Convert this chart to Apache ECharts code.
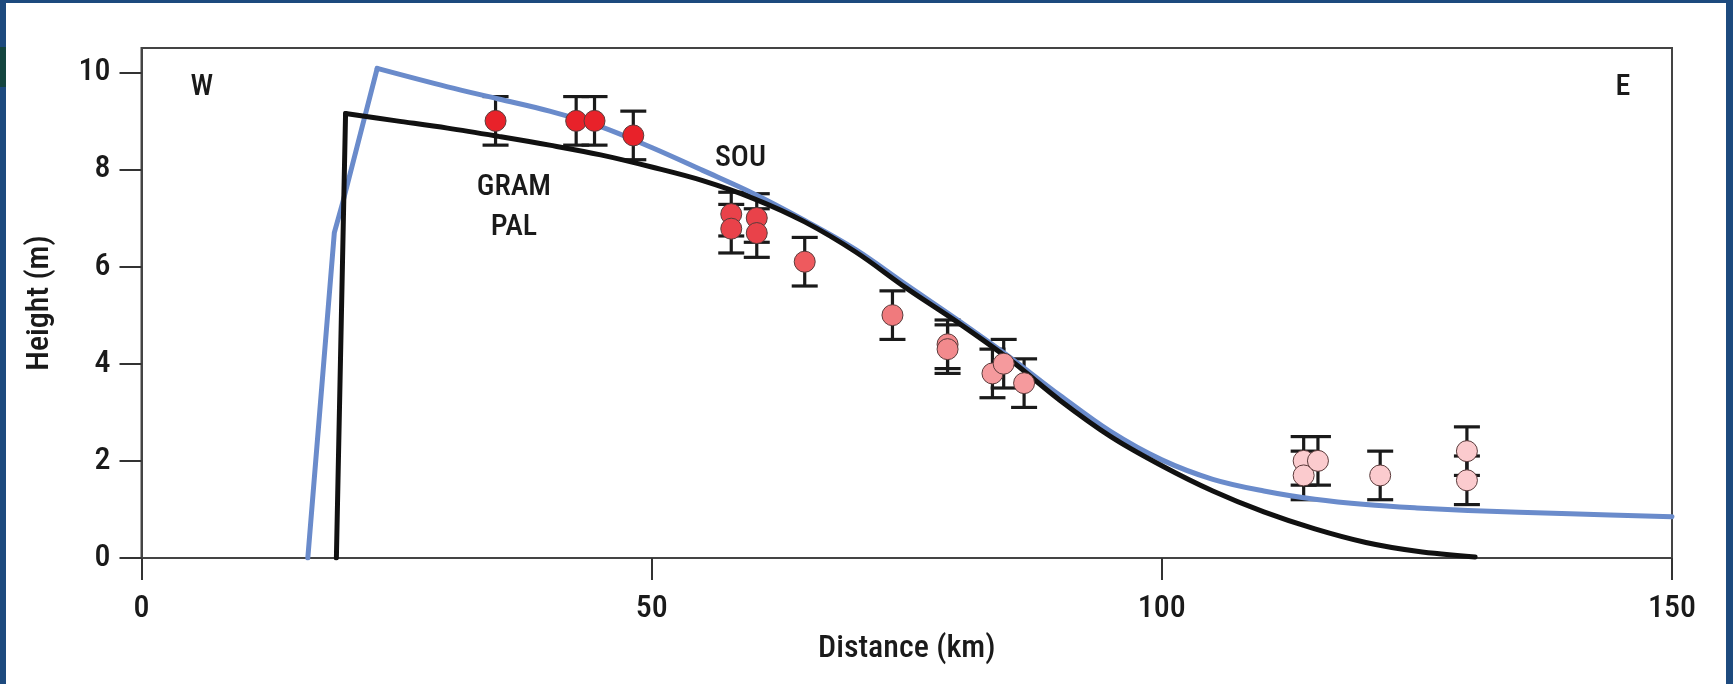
<!DOCTYPE html>
<html>
<head>
<meta charset="utf-8">
<script src="https://cdn.jsdelivr.net/npm/echarts@6/dist/echarts.min.js"></script>
<style>
  html, body { margin: 0; padding: 0; background: #1d4a7e; width: 1733px; height: 684px; overflow: hidden; }
  #chart { position: absolute; left: 6px; top: 3px; width: 1720px; height: 681px; background: #fff; }
  #mark { position: absolute; left: 0; top: 47px; width: 6px; height: 40px; background: #14453f; }
</style>
</head>
<body>
<div id="mark"></div>
<div id="chart"></div>
<script>
// x ticks / y ticks
var xTicks = [0, 50, 100, 150];
var yTicks = [0, 2, 4, 6, 8, 10];

// observed tsunami heights: distance (km), height (m), error (m)
var obsDist   = [34.7, 42.6, 44.4, 48.2, 57.8, 57.8, 60.3, 60.3, 65.0, 73.6, 79.0, 79.0, 83.4, 84.5, 86.5, 113.9, 113.9, 115.3, 121.4, 129.9, 129.9];
var obsHeight = [9.0, 9.0, 9.0, 8.7, 7.08, 6.78, 7.0, 6.69, 6.1, 5.0, 4.4, 4.3, 3.8, 4.0, 3.6, 2.0, 1.7, 2.0, 1.7, 2.2, 1.6];
var obsErr    = [0.5, 0.5, 0.5, 0.5, 0.45, 0.5, 0.5, 0.5, 0.5, 0.5, 0.5, 0.5, 0.5, 0.5, 0.5, 0.5, 0.5, 0.5, 0.5, 0.5, 0.5];

// model curves (first points are the straight rising front)
var blueDist   = [16.3, 18.9, 19.7, 23.1, 30, 35, 40, 45, 50, 55, 60, 65, 70, 75, 80, 85, 90, 95, 100, 105, 110, 115, 120, 125, 130, 140, 150];
var blueHeight = [0, 6.7, 7.3, 10.08, 9.7, 9.45, 9.2, 8.88, 8.45, 7.98, 7.5, 6.95, 6.35, 5.62, 4.9, 4.15, 3.35, 2.6, 2.02, 1.62, 1.38, 1.21, 1.1, 1.03, 0.98, 0.91, 0.85];
var blueFront  = 4;
var blackDist   = [19.1, 20.0, 25, 30, 35, 40, 45, 50, 55, 60, 65, 70, 75, 80, 85, 90, 95, 100, 105, 110, 115, 120, 125, 130.7];
var blackHeight = [0, 9.15, 9.0, 8.85, 8.68, 8.5, 8.3, 8.05, 7.77, 7.4, 6.92, 6.3, 5.55, 4.85, 4.1, 3.25, 2.5, 1.9, 1.38, 0.95, 0.6, 0.32, 0.14, 0.02];
var blackFront  = 2;

// text annotations
var noteText = ['W', 'E', 'GRAM', 'PAL', 'SOU'];
var noteDist = [5.9, 145.2, 36.5, 36.5, 58.7];
var noteHeight = [9.69, 9.69, 7.62, 6.8, 8.23];

var FONT = '"Roboto Condensed", "Liberation Sans Narrow", "Arial Narrow", sans-serif';
var INK = '#1a1a1a';

function pairs(xs, ys) {
    return xs.map(function (x, i) { return [x, ys[i]]; });
}

function curve(xs, ys, from, to, color, smooth) {
    return {
        type: 'line', z: 3, data: pairs(xs, ys).slice(from, to),
        showSymbol: false, smooth: smooth, silent: true,
        lineStyle: { color: color, width: 5, cap: 'round', join: 'round' }
    };
}

var chart = echarts.init(document.getElementById('chart'));

var option = {
    backgroundColor: '#fff',
    animation: false,
    grid: {
        left: 135.5, right: 54, top: 45, bottom: 126,
        show: true, borderColor: '#444', borderWidth: 2
    },
    xAxis: {
        type: 'value', min: 0, max: 150, interval: 50,
        name: 'Distance (km)', nameLocation: 'middle', nameGap: 75,
        nameTextStyle: { fontFamily: FONT, fontSize: 32, fontWeight: 500, color: INK },
        axisLine: { show: true, onZero: false, lineStyle: { color: '#444', width: 2 } },
        axisTick: { show: true, length: 22, lineStyle: { color: '#333', width: 2 }, customValues: xTicks },
        axisLabel: { fontFamily: FONT, fontSize: 32, fontWeight: 500, color: INK, margin: 35, customValues: xTicks },
        splitLine: { show: false }
    },
    yAxis: {
        type: 'value', min: 0, max: 10.5,
        name: 'Height (m)', nameLocation: 'middle', nameGap: 86, nameRotate: 90,
        nameTextStyle: { fontFamily: FONT, fontSize: 32, fontWeight: 500, color: INK },
        axisLine: { show: true, lineStyle: { color: '#444', width: 2 } },
        axisTick: { show: true, length: 22, lineStyle: { color: '#333', width: 2 }, customValues: yTicks },
        axisLabel: { fontFamily: FONT, fontSize: 32, fontWeight: 500, color: INK, margin: 31, customValues: yTicks },
        splitLine: { show: false }
    },
    visualMap: {
        show: false, type: 'piecewise', seriesIndex: 5, dimension: 0,
        pieces: [
            { lt: 50, color: '#e8222a' },
            { gte: 50, lt: 62, color: '#e9424a' },
            { gte: 62, lt: 68, color: '#ee5a5e' },
            { gte: 68, lt: 76, color: '#f07a7d' },
            { gte: 76, lt: 81, color: '#f28a8d' },
            { gte: 81, lt: 100, color: '#f59a9d' },
            { gte: 100, color: '#fbcbce' }
        ]
    },
    series: [
        {
            type: 'custom', z: 2, silent: true,
            data: obsDist.map(function (x, i) { return [x, obsHeight[i] - obsErr[i], obsHeight[i] + obsErr[i]]; }),
            renderItem: function (params, api) {
                var top = api.coord([api.value(0), api.value(2)]);
                var bot = api.coord([api.value(0), api.value(1)]);
                var hw = 13;
                var st = { stroke: '#1a1a1a', lineWidth: 3.2 };
                return {
                    type: 'group',
                    children: [
                        { type: 'line', shape: { x1: top[0], y1: top[1], x2: bot[0], y2: bot[1] }, style: st },
                        { type: 'line', shape: { x1: top[0] - hw, y1: top[1], x2: top[0] + hw, y2: top[1] }, style: st },
                        { type: 'line', shape: { x1: bot[0] - hw, y1: bot[1], x2: bot[0] + hw, y2: bot[1] }, style: st }
                    ]
                };
            }
        },
        curve(blueDist, blueHeight, 0, blueFront, '#6a8bcb', false),
        curve(blueDist, blueHeight, blueFront - 1, blueDist.length, '#6a8bcb', 0.35),
        curve(blackDist, blackHeight, 0, blackFront, '#111', false),
        curve(blackDist, blackHeight, blackFront - 1, blackDist.length, '#111', 0.35),
        {
            type: 'scatter', z: 4, data: pairs(obsDist, obsHeight),
            symbol: 'circle', symbolSize: 21,
            itemStyle: { borderColor: '#5a3a3a', borderWidth: 1, opacity: 1 }
        },
        {
            type: 'custom', z: 5, silent: true,
            data: noteDist.map(function (x, i) { return [x, noteHeight[i]]; }),
            renderItem: function (params, api) {
                var p = api.coord([api.value(0), api.value(1)]);
                return {
                    type: 'text', x: p[0], y: p[1],
                    style: {
                        text: noteText[params.dataIndex],
                        font: '500 30px ' + FONT, fill: INK,
                        align: 'center', verticalAlign: 'middle'
                    }
                };
            }
        }
    ]
};

chart.setOption(option);
</script>
</body>
</html>
